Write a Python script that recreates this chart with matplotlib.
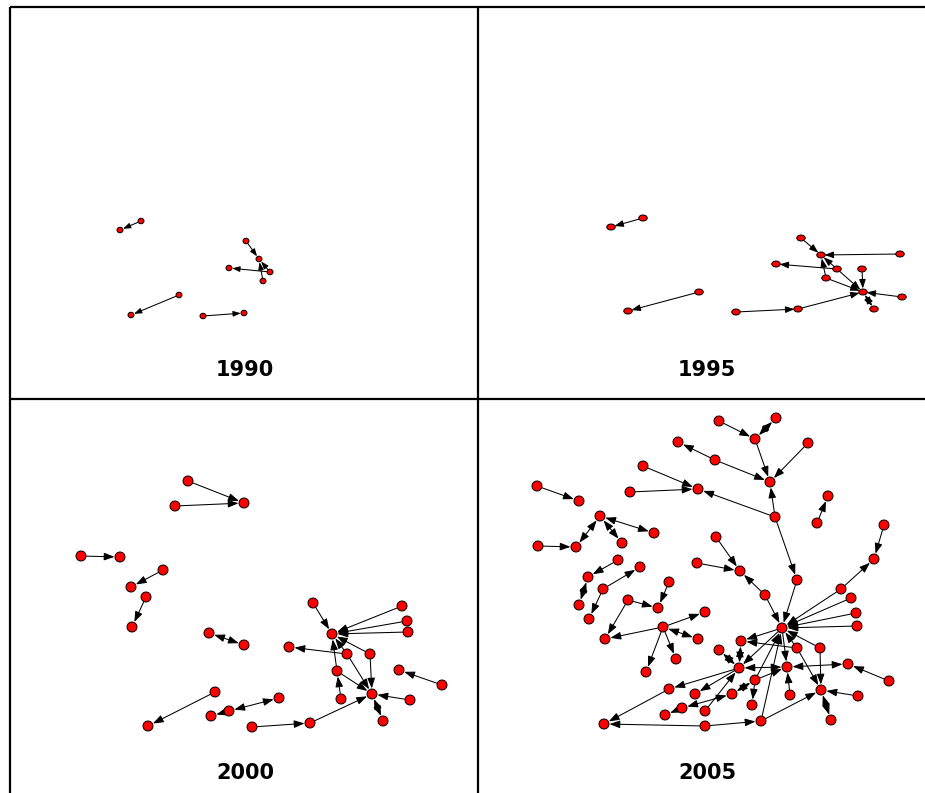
import matplotlib
matplotlib.use("Agg")
import matplotlib.pyplot as plt
from matplotlib.patches import Ellipse, FancyArrowPatch

# Años de cada panel
anios = ["1990", "1995", "2000", "2005"]

# Nodos de cada red (posición, en píxeles)
nodos_1990 = {
    "a": (141, 221), "b": (120, 230), "c": (246, 241), "d": (259, 259),
    "e": (229, 268), "f": (270, 272), "g": (263, 281), "h": (179, 295),
    "i": (131, 315), "j": (203, 316), "k": (244, 313),
}
aristas_1990 = [("a", "b", ">"), ("c", "d", ">"), ("f", "e", ">"), ("f", "d", ">"),
                ("g", "d", ">"), ("h", "i", ">"), ("j", "k", ">")]

nodos_1995 = {
    "a": (643, 218), "b": (611, 227), "c": (801, 238), "d": (821, 255),
    "e": (900, 254), "f": (776, 264), "g": (837, 269), "h": (862, 269),
    "j": (826, 278), "i": (863, 292), "k": (902, 297), "l": (874, 309),
    "m": (798, 309), "n": (736, 312), "o": (699, 292), "p": (628, 311),
}
aristas_1995 = [("a", "b", ">"), ("c", "d", ">"), ("e", "d", ">"), ("g", "f", ">"),
                ("g", "d", ">"), ("j", "d", ">"), ("g", "i", ">"), ("j", "i", ">"),
                ("h", "i", ">"), ("k", "i", ">"), ("i", "l", "<>"), ("m", "i", ">"),
                ("n", "m", ">"), ("o", "p", ">")]

nodos_2000 = {
    "a": (188, 481), "b": (244, 503), "c": (175, 506), "d": (81, 556),
    "e": (120, 557), "f": (163, 570), "g": (131, 587), "h": (146, 597),
    "i": (132, 627), "j": (209, 633), "k": (244, 645), "l": (215, 692),
    "m": (148, 726), "n": (211, 716), "o": (229, 711), "p": (279, 698),
    "q": (252, 727), "r": (310, 723), "t": (313, 603), "u": (332, 634),
    "v": (402, 606), "w": (407, 621), "x": (408, 632), "y": (289, 647),
    "z": (347, 654), "aa": (370, 654), "ab": (337, 671), "ac": (399, 670),
    "ad": (442, 685), "s": (372, 694), "ae": (341, 699), "af": (410, 700),
    "ag": (383, 721),
}
aristas_2000 = [("a", "b", ">"), ("c", "b", ">"), ("d", "e", ">"), ("f", "g", ">"),
                ("h", "i", ">"), ("j", "k", "<>"), ("l", "m", ">"), ("o", "n", ">"),
                ("o", "p", "<>"), ("q", "r", ">"), ("r", "s", ">"), ("t", "u", ">"),
                ("v", "u", ">"), ("w", "u", ">"), ("x", "u", ">"), ("z", "y", ">"),
                ("z", "u", ">"), ("z", "s", ">"), ("aa", "u", ">"), ("aa", "s", ">"),
                ("ab", "u", ">"), ("ab", "s", ">"), ("ae", "ab", ">"), ("ad", "ac", ">"),
                ("af", "s", ">"), ("s", "ag", "<>")]

nodos_2005 = {
    "n1": (719, 421), "n2": (776, 418), "n3": (755, 439), "n4": (808, 443),
    "n5": (715, 460), "n6": (770, 482), "n7": (698, 489), "n8": (775, 517),
    "n10": (828, 496), "n11": (817, 523), "n12": (884, 525), "n13": (874, 559),
    "n14": (716, 537), "n15": (740, 571), "n9": (797, 580), "n16": (765, 595),
    "n17": (841, 589), "n18": (851, 598), "n19": (856, 613), "n20": (857, 626),
    "hub": (782, 628), "n21": (705, 612), "n22": (697, 563), "n23": (663, 627),
    "n24": (741, 641), "n25": (797, 648), "n26": (820, 648), "n27": (739, 668),
    "n29": (719, 650), "n30": (787, 667), "n31": (848, 664), "n32": (889, 681),
    "n28": (821, 690), "n33": (858, 696), "n34": (831, 720), "n35": (755, 680),
    "n36": (732, 694), "n37": (752, 705), "n38": (790, 695), "n39": (761, 721),
    "n40": (705, 726), "n41": (705, 711), "n42": (605, 639), "n43": (698, 639),
    "n44": (676, 659), "n45": (646, 672), "n48": (669, 689), "n50": (695, 694),
    "n51": (682, 708), "n53": (665, 715), "n49": (604, 724),
    "m1": (678, 442), "m2": (643, 466), "m4": (630, 492), "m5": (537, 486),
    "m6": (579, 501), "m7": (600, 516), "m8": (654, 533), "m9": (622, 543),
    "m10": (576, 547), "m11": (538, 546), "m12": (618, 560), "m13": (588, 577),
    "m14": (579, 605), "m15": (640, 567), "m16": (603, 589), "m17": (589, 619),
    "m18": (669, 582), "m19": (658, 608), "m20": (628, 600),
}
aristas_2005 = [
    ("n1", "n3", ">"), ("n2", "n3", "<>"), ("n3", "n6", ">"), ("n5", "n6", ">"),
    ("n4", "n6", ">"), ("n5", "m1", ">"), ("m2", "n7", ">"), ("m4", "n7", ">"),
    ("n8", "n6", ">"), ("n8", "n7", ">"), ("n8", "n9", ">"), ("n9", "hub", ">"),
    ("n11", "n10", ">"), ("n12", "n13", ">"), ("n17", "n13", ">"), ("n14", "n15", ">"),
    ("n22", "n15", ">"), ("n16", "n15", ">"), ("n16", "hub", ">"), ("n17", "hub", ">"),
    ("n18", "hub", ">"), ("n19", "hub", ">"), ("n20", "hub", ">"),
    ("m5", "m6", ">"), ("m7", "m8", "<>"), ("m7", "m9", "<>"), ("m7", "m10", "<>"),
    ("m11", "m10", ">"), ("m12", "m13", ">"), ("m13", "m14", "<>"), ("m16", "m15", ">"),
    ("m16", "m17", ">"), ("m18", "m19", ">"), ("m20", "m19", ">"), ("m20", "n42", ">"),
    ("n23", "n42", ">"), ("n23", "n21", ">"), ("n23", "n43", "<>"), ("n23", "n44", ">"),
    ("n23", "n45", ">"), ("hub", "n24", ">"), ("n25", "n24", ">"), ("n24", "n27", "<>"),
    ("n29", "n27", "<>"), ("hub", "n27", ">"), ("n27", "n30", "<>"), ("n35", "n30", ">"),
    ("n35", "n36", "<>"), ("n35", "n37", ">"), ("n35", "hub", ">"), ("n38", "n30", ">"),
    ("n39", "hub", ">"), ("n40", "n39", ">"), ("n40", "n49", ">"), ("n39", "n28", ">"),
    ("n25", "n28", ">"), ("n26", "n28", ">"), ("n26", "hub", ">"), ("n25", "hub", ">"),
    ("n33", "n28", ">"), ("n28", "n34", "<>"), ("n32", "n31", ">"), ("n30", "n31", "<>"),
    ("n27", "n48", ">"), ("n27", "n50", ">"), ("n48", "n49", ">"), ("n41", "n27", ">"),
    ("n51", "n53", ">"), ("n36", "n51", "<>"), ("hub", "n30", ">"),
]

# Tamaño de los nodos por panel (ancho, alto en píxeles) y de las puntas de flecha
redes = [
    (nodos_1990, aristas_1990, (6, 5.5), 5),
    (nodos_1995, aristas_1995, (8.5, 6), 6),
    (nodos_2000, aristas_2000, (10, 10), 7),
    (nodos_2005, aristas_2005, (10, 10), 7),
]
pos_etiquetas = [(245, 370), (707, 370), (245, 773), (707, 773)]

fig = plt.figure(figsize=(9.25, 7.93), dpi=100)
ax = fig.add_axes([0, 0, 1, 1])
ax.set_xlim(0, 925)
ax.set_ylim(793, 0)
ax.axis("off")

# Rejilla de la tabla
borde = dict(color="black", lw=1.6, solid_capstyle="butt")
ax.plot([10, 925], [7, 7], **borde)
ax.plot([10, 925], [399, 399], **borde)
ax.plot([10, 10], [7, 793], **borde)
ax.plot([478, 478], [7, 793], **borde)

for nodos, aristas, (ancho, alto), escala in redes:
    radio_pt = (alto / 2 + 0.5) * 72 / 100
    for src, dst, tipo in aristas:
        estilo = "<|-|>" if tipo == "<>" else "-|>"
        flecha = FancyArrowPatch(nodos[src], nodos[dst],
                                 arrowstyle=f"{estilo},head_length=0.9,head_width=0.33",
                                 mutation_scale=escala, color="black", lw=0.75,
                                 shrinkA=radio_pt, shrinkB=radio_pt, zorder=2)
        ax.add_patch(flecha)
    for x, y in nodos.values():
        ax.add_patch(Ellipse((x, y), ancho, alto, facecolor="#ff0000",
                             edgecolor="black", lw=0.7, zorder=3))

for anio, (x, y) in zip(anios, pos_etiquetas):
    ax.text(x, y, anio, ha="center", va="center", fontsize=15,
            fontweight="bold", family="DejaVu Sans")

fig.savefig("out.png", dpi=100)
